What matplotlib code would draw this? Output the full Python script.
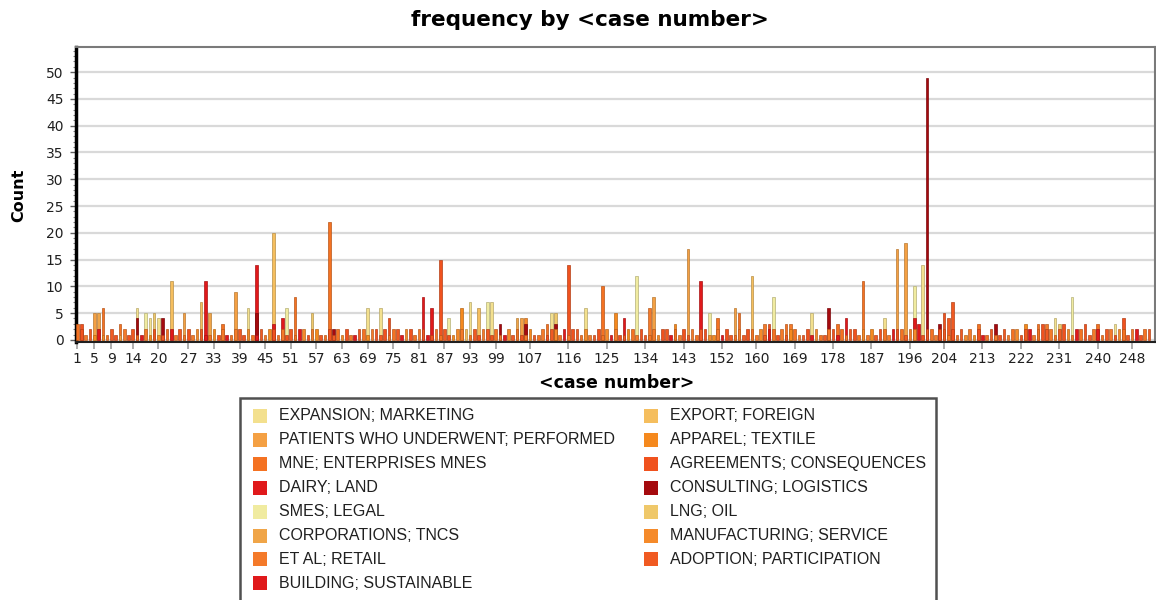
import numpy as np
import matplotlib.pyplot as plt
from matplotlib.patches import Rectangle

# series names (order of the data), and their swatch colours
topics = ['EXPANSION; MARKETING', 'EXPORT; FOREIGN',
          'PATIENTS WHO UNDERWENT; PERFORMED', 'APPAREL; TEXTILE',
          'MNE; ENTERPRISES MNES', 'AGREEMENTS; CONSEQUENCES',
          'DAIRY; LAND', 'CONSULTING; LOGISTICS',
          'SMES; LEGAL', 'LNG; OIL',
          'CORPORATIONS; TNCS', 'MANUFACTURING; SERVICE',
          'ET AL; RETAIL', 'ADOPTION; PARTICIPATION',
          'BUILDING; SUSTAINABLE']
topic_colors = ['#F3E08E', '#F5BE5E', '#F4A043', '#F5891E', '#F47222',
                '#F0521E', '#E0191B', '#A50A0E', '#F0EBA0', '#EFC86A',
                '#F0A548', '#F58A2A', '#F47A2A', '#F05A22', '#E0191B']

n_cases = 252
tick_cases = [1, 5, 9, 14, 20, 27, 33, 39, 45, 51, 57, 63, 69, 75, 81, 87, 93,
              99, 107, 116, 125, 134, 143, 152, 160, 169, 178, 187, 196, 204,
              213, 222, 231, 240, 248]

# low counts present at nearly every case (case 1..252)
base_counts = [3, 2, 1, 2, 1, 2, 1, 1, 2, 1, 1, 2,
               1, 2, 1, 1, 2, 1, 2, 1, 1, 2, 2, 1,
               2, 1, 2, 1, 2, 2, 1, 1, 2, 1, 2, 1,
               1, 2, 2, 1, 2, 1, 1, 2, 1, 2, 2, 1,
               2, 1, 2, 1, 2, 2, 1, 2, 2, 1, 1, 2,
               1, 2, 1, 2, 1, 1, 2, 2, 1, 2, 2, 1,
               2, 1, 2, 2, 1, 2, 2, 1, 2, 2, 1, 1,
               2, 1, 2, 1, 1, 2, 2, 2, 1, 2, 1, 2,
               2, 1, 2, 1, 1, 2, 1, 2, 1, 1, 2, 1,
               1, 2, 1, 2, 2, 1, 2, 1, 2, 2, 1, 2,
               1, 1, 2, 1, 2, 1, 2, 1, 1, 2, 2, 1,
               2, 1, 1, 2, 1, 2, 2, 1, 2, 1, 2, 1,
               2, 1, 2, 2, 1, 1, 2, 1, 2, 1, 1, 2,
               1, 2, 2, 1, 2, 1, 2, 2, 1, 2, 1, 2,
               2, 1, 1, 2, 1, 2, 1, 1, 2, 2, 1, 2,
               1, 2, 2, 1, 2, 1, 2, 1, 2, 2, 1, 2,
               2, 2, 1, 2, 2, 3, 1, 2, 2, 1, 2, 2,
               1, 2, 1, 2, 1, 2, 1, 2, 1, 1, 2, 1,
               1, 2, 1, 2, 2, 1, 2, 2, 1, 2, 3, 2,
               2, 1, 2, 3, 2, 1, 2, 2, 3, 1, 2, 2,
               1, 2, 2, 1, 2, 2, 1, 2, 2, 1, 2, 2]
base_topic = [4, 5, 12, 13, 3, 6, 11, 4, 13, 5, 2, 12,
              5, 13, 4, 14, 12, 3, 5, 11, 13, 4, 6, 12,
              13, 4, 5, 12, 11, 13, 6, 4, 3, 5, 12, 14,
              4, 12, 13, 5, 11, 4, 6, 13, 12, 3, 5, 4,
              12, 5, 13, 4, 14, 11, 5, 12, 3, 13, 4, 5,
              13, 4, 11, 5, 12, 6, 13, 4, 3, 12, 5, 13,
              5, 12, 4, 13, 14, 11, 5, 4, 12, 13, 6, 5,
              12, 4, 13, 5, 3, 11, 12, 1, 4, 13, 5, 12,
              13, 5, 4, 12, 6, 11, 13, 4, 5, 12, 3, 13,
              4, 12, 5, 13, 11, 4, 6, 12, 5, 13, 4, 11,
              12, 13, 5, 4, 11, 14, 12, 5, 13, 3, 4, 12,
              5, 13, 4, 12, 11, 5, 13, 6, 4, 12, 5, 13,
              12, 4, 13, 5, 11, 3, 12, 14, 5, 13, 4, 12,
              13, 5, 4, 12, 11, 13, 6, 4, 5, 12, 13, 3,
              4, 12, 13, 5, 14, 11, 4, 13, 12, 5, 6, 4,
              12, 13, 5, 4, 11, 12, 3, 13, 5, 4, 12, 14,
              5, 4, 13, 12, 11, 6, 5, 13, 4, 12, 5, 13,
              12, 5, 4, 13, 11, 12, 3, 5, 14, 4, 13, 12,
              5, 13, 12, 4, 11, 5, 13, 6, 12, 4, 5, 13,
              12, 4, 13, 5, 11, 12, 14, 4, 5, 13, 12, 6,
              4, 13, 12, 5, 11, 4, 13, 12, 6, 5, 4, 13]

# the taller bars: case number, count, series index
peak_cases = [2, 5, 6, 7, 11, 15, 15, 17, 18, 19, 20, 21, 23, 26, 30, 31, 32,
              35, 38, 41, 43, 43, 47, 47, 49, 50, 52, 56, 60, 61, 69, 72, 74,
              82, 84, 86, 88, 91, 93, 95, 97, 98, 100, 104, 105, 106, 106, 111,
              112, 113, 113, 116, 120, 124, 127, 129, 132, 135, 136, 141, 144,
              147, 149, 151, 155, 156, 159, 162, 163, 164, 167, 168, 173, 177,
              179, 181, 185, 190, 193, 195, 197, 197, 199, 200, 203, 204, 205,
              206, 212, 216, 223, 226, 228, 230, 231, 234, 240, 244, 246]
peak_counts = [3, 5, 5, 6, 3, 6, 4, 5, 4, 5, 4, 4, 11, 5, 7, 11, 5,
               3, 9, 6, 14, 5, 20, 3, 4, 6, 8, 5, 22, 2, 6, 6, 4,
               8, 6, 15, 4, 6, 7, 6, 7, 7, 3, 4, 4, 4, 3, 3,
               5, 5, 3, 14, 6, 10, 5, 4, 12, 6, 8, 3, 17,
               11, 5, 4, 6, 5, 12, 3, 3, 8, 3, 3, 5, 6,
               3, 4, 11, 4, 17, 18, 10, 4, 14, 49, 3, 5, 4,
               7, 3, 3, 3, 3, 3, 4, 3, 8, 3, 3, 4]
peak_topic = [5, 2, 10, 4, 4, 0, 7, 8, 0, 9, 0, 7, 1, 2, 1, 6, 10,
              4, 2, 0, 14, 7, 1, 6, 6, 8, 4, 9, 4, 7, 0, 0, 5,
              6, 14, 5, 8, 3, 0, 1, 8, 0, 7, 10, 2, 11, 7, 4,
              0, 9, 7, 5, 0, 4, 3, 6, 8, 12, 2, 3, 2,
              6, 8, 4, 2, 4, 1, 12, 5, 8, 4, 12, 0, 7,
              4, 6, 4, 0, 2, 2, 8, 6, 0, 7, 7, 5, 13,
              13, 4, 7, 3, 4, 12, 0, 9, 8, 4, 0, 5]


def darker(hex_color, f=0.75):
    r, g, b = [int(hex_color[i:i + 2], 16) / 255 for i in (1, 3, 5)]
    return (r * f, g * f, b * f)


# gather bars, tall ones first so short ones sit in front
bars = []
for i in range(n_cases):
    if base_counts[i] > 0:
        bars.append((i + 1, base_counts[i], base_topic[i]))
for c, v, t in zip(peak_cases, peak_counts, peak_topic):
    bars.append((c, v, t))
bars.sort(key=lambda b: -b[1])

fig = plt.figure(figsize=(11.56, 6.0), dpi=100)
ax = fig.add_axes([76 / 1156, 1 - 342 / 600, (1155 - 76) / 1156, (342 - 47) / 600])

xs = [b[0] for b in bars]
hs = [b[1] for b in bars]
fills = [topic_colors[b[2]] for b in bars]
edges = [darker(topic_colors[b[2]]) for b in bars]
ax.bar(xs, hs, width=0.62, color=fills, edgecolor=edges, linewidth=0.5,
       zorder=3)

ax.set_xlim(0.7, 253.4)
ax.set_ylim(-0.4, 54.7)
ax.set_yticks(np.arange(0, 51, 5))
ax.set_yticks(np.arange(0, 55, 1), minor=True)
ax.set_xticks(tick_cases)
ax.set_xticklabels([str(t) for t in tick_cases])
ax.grid(axis='y', color='#D9D9D9', linewidth=1.6, zorder=0)
ax.set_axisbelow(True)

ax.tick_params(axis='x', length=5, width=1.2, color='#A0A0A0', labelsize=10,
               pad=2, labelcolor='#202020')
ax.tick_params(axis='y', which='major', length=4, width=1, color='#606060',
               labelsize=10, pad=5, labelcolor='#202020')
ax.tick_params(axis='y', which='minor', length=2, width=0.8, color='#808080')

ax.spines['left'].set_linewidth(2.5)
ax.spines['left'].set_color('black')
ax.spines['bottom'].set_linewidth(1.5)
ax.spines['bottom'].set_color('#202020')
ax.spines['top'].set_color('#7A7A7A')
ax.spines['top'].set_linewidth(1.5)
ax.spines['right'].set_color('#7A7A7A')
ax.spines['right'].set_linewidth(1.5)

fig.text(590 / 1156, 1 - 20 / 600, 'frequency by <case number>', ha='center',
         va='center', fontsize=15.5, fontweight='bold')
fig.text(19 / 1156, 1 - 195 / 600, 'Count', rotation=90, ha='center',
         va='center', fontsize=11.5, fontweight='bold')
fig.text(617 / 1156, 1 - 383 / 600, '<case number>', ha='center',
         va='center', fontsize=12.5, fontweight='bold')

# legend box, drawn by hand (two columns, runs off the bottom)
fig.patches.append(Rectangle((240 / 1156, 1 - 612 / 600), 696 / 1156,
                             214 / 600, transform=fig.transFigure,
                             facecolor='white', edgecolor='#505050',
                             linewidth=1.8))
left_col = [0, 2, 4, 6, 8, 10, 12, 14]
right_col = [1, 3, 5, 7, 9, 11, 13]
for col_x, col in ((253, left_col), (644, right_col)):
    for row, t in enumerate(col):
        yc = 416 + row * 23.9
        fig.patches.append(Rectangle((col_x / 1156, 1 - (yc + 7) / 600),
                                     14 / 1156, 14 / 600,
                                     transform=fig.transFigure,
                                     facecolor=topic_colors[t],
                                     edgecolor='none'))
        fig.text((col_x + 26) / 1156, 1 - yc / 600, topics[t], ha='left',
                 va='center', fontsize=11.5, color='#202020',
                 family='Liberation Sans')

fig.savefig('out.png', dpi=100)
